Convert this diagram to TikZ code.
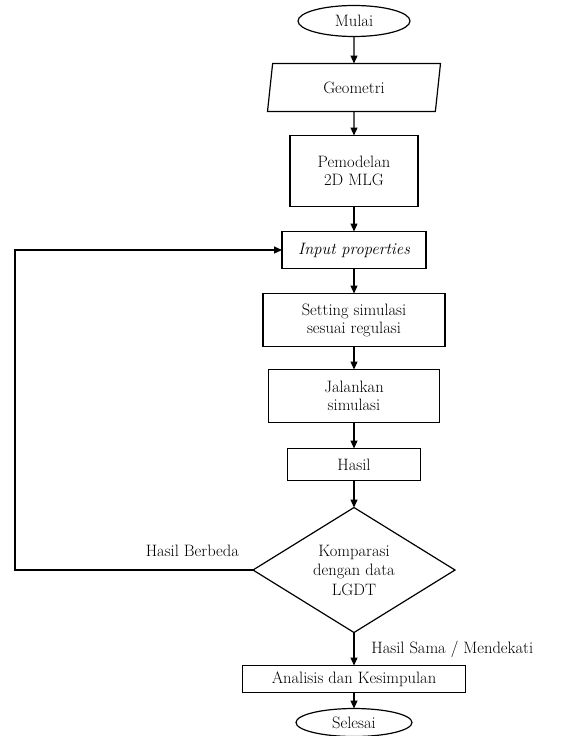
\documentclass[tikz,border=0pt]{standalone}
\usetikzlibrary{positioning,shapes.geometric,arrows.meta}
\tikzset{>={Triangle[length=8pt,width=7pt]}}

\begin{document}
\begin{tikzpicture}[
        x=1pt, y=-1pt,
        line width=1.2pt,
        font=\fontsize{16.5}{18}\selectfont,
        every node/.style={outer sep=0pt},
        block/.style={
            draw,
            align=center,
            inner sep=2pt,
          },
        terminal/.style={
            draw,
            ellipse,
            inner sep=1pt,
          },
        inout/.style={
            draw,
            trapezium,
            trapezium left angle=72,
            trapezium right angle=108,
            trapezium stretches body,
            inner sep=2pt,
          },
        decision/.style={
            draw,
            diamond,
            align=center,
            shape aspect=1.6,
            inner sep=0pt,
            font=\fontsize{16.5}{19.5}\selectfont,
          },
      ]
      \useasboundingbox (0,0) rectangle (561,736);

      \node [
        terminal,
        minimum width=112pt,
        minimum height=31pt
      ] (mulai) at (354,21) {Mulai};
      \node [
        inout,
        minimum width=173pt,
        minimum height=48pt,
        below=27pt of mulai
      ] (geometri) {Geometri};
      \node [
        block,
        minimum width=128pt,
        minimum height=71pt,
        below=24pt of geometri
      ] (pemodelan) {Pemodelan\\ 2D MLG};
      \node [
        block,
        minimum width=144pt,
        minimum height=37pt,
        below=25pt of pemodelan
      ] (input) {\itshape Input properties};
      \node [
        block,
        minimum width=182pt,
        minimum height=53pt,
        below=25pt of input
      ] (setting) {Setting simulasi\\ sesuai regulasi};
      \node [
        block,
        minimum width=171pt,
        minimum height=53pt,
        below=23pt of setting
      ] (jalankan) {Jalankan\\ simulasi};
      \node [
        block,
        minimum width=133pt,
        minimum height=32pt,
        below=26pt of jalankan
      ] (hasil) {Hasil};
      \node [
        decision,
        minimum width=202pt,
        minimum height=125pt,
        below=27pt of hasil
      ] (komparasi) {Komparasi\\ dengan data\\ LGDT};
      \node [
        block,
        minimum width=223pt,
        minimum height=27pt,
        below=33pt of komparasi
      ] (analisis) {Analisis dan Kesimpulan};
      \node [
        terminal,
        minimum width=116pt,
        minimum height=28pt,
        below=16pt of analisis
      ] (selesai) {Selesai};
      \coordinate (loop) at (15,570);

      \draw[->] (mulai) -- (geometri);
      \draw[->] (geometri) -- (pemodelan);
      \draw[->] (pemodelan) -- (input);
      \draw[->] (input) -- (setting);
      \draw[->] (setting) -- (jalankan);
      \draw[->] (jalankan) -- (hasil);
      \draw[->] (hasil) -- (komparasi);
      \draw[->] (komparasi.south) -- node[right=14pt] {Hasil Sama / Mendekati} (analisis.north);
      \draw[->] (analisis) -- (selesai);
      \draw[->] (komparasi.west) -- node[above=10pt, pos=0.255] {Hasil Berbeda} (komparasi.west -| loop) |- (input.west);
    \end{tikzpicture}
\end{document}
